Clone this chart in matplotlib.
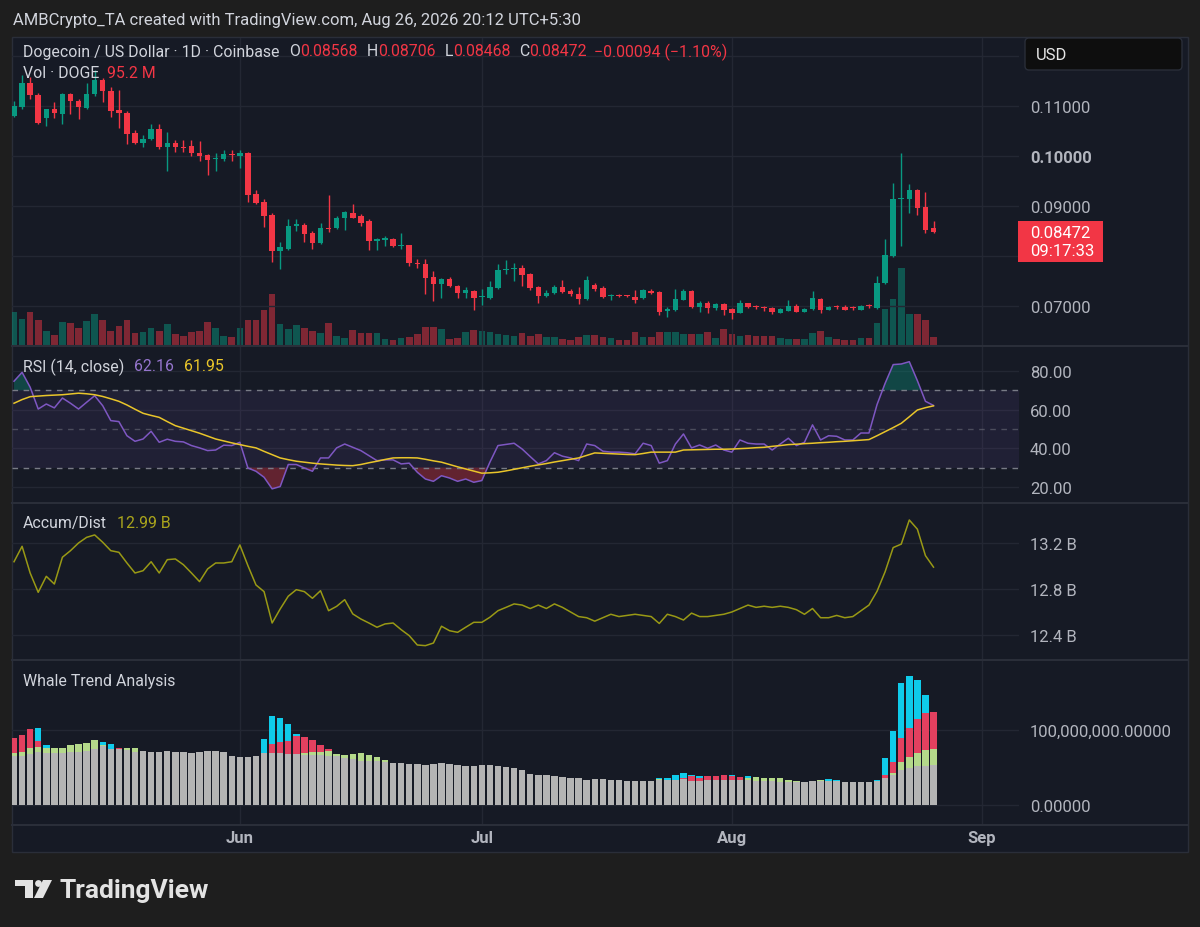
import matplotlib
matplotlib.use("Agg")
import matplotlib.pyplot as plt
import matplotlib.dates as mdates
from matplotlib.patches import Rectangle, FancyBboxPatch, Circle, Polygon
from matplotlib.lines import Line2D
from matplotlib.transforms import Affine2D
import numpy as np

plt.rcParams['font.family'] = ['Roboto', 'DejaVu Sans']

W, H = 1200, 928

# ---- data ----
dates = np.arange(np.datetime64('2026-05-04'), np.datetime64('2026-08-27'))

# open, high, low, close
candles = [
    (0.1081, 0.1110, 0.1078, 0.1100), (0.1099, 0.1162, 0.1095, 0.1147),
    (0.1147, 0.1158, 0.1114, 0.1123), (0.1123, 0.1126, 0.1064, 0.1067),
    (0.1077, 0.1094, 0.1061, 0.1094), (0.1094, 0.1108, 0.1077, 0.1086),
    (0.1084, 0.1126, 0.1064, 0.1124), (0.1124, 0.1126, 0.1084, 0.1111),
    (0.1111, 0.1114, 0.1075, 0.1099), (0.1097, 0.1147, 0.1094, 0.1124),
    (0.1124, 0.1172, 0.1120, 0.1153), (0.1153, 0.1156, 0.1108, 0.1131),
    (0.1131, 0.1138, 0.1078, 0.1091), (0.1093, 0.1132, 0.1057, 0.1087),
    (0.1087, 0.1090, 0.1024, 0.1044), (0.1046, 0.1052, 0.1024, 0.1027),
    (0.1027, 0.1042, 0.1019, 0.1034), (0.1034, 0.1064, 0.1032, 0.1054),
    (0.1054, 0.1064, 0.1015, 0.1019), (0.1019, 0.1048, 0.0971, 0.1027),
    (0.1027, 0.1032, 0.1009, 0.1019), (0.1019, 0.1033, 0.1008, 0.1016),
    (0.1019, 0.1033, 0.1001, 0.1007), (0.1007, 0.1030, 0.0991, 0.1001),
    (0.1002, 0.1004, 0.0962, 0.0993), (0.0994, 0.1007, 0.0970, 0.0997),
    (0.0994, 0.1012, 0.0991, 0.1004), (0.1004, 0.1012, 0.0991, 0.1002),
    (0.1001, 0.1012, 0.0976, 0.1007), (0.1007, 0.1008, 0.0909, 0.0922),
    (0.0924, 0.0933, 0.0905, 0.0907), (0.0909, 0.0915, 0.0858, 0.0881),
    (0.0882, 0.0886, 0.0788, 0.0811), (0.0811, 0.0829, 0.0774, 0.0818),
    (0.0815, 0.0874, 0.0812, 0.0861), (0.0861, 0.0874, 0.0851, 0.0864),
    (0.0862, 0.0866, 0.0829, 0.0844), (0.0846, 0.0851, 0.0815, 0.0826),
    (0.0826, 0.0867, 0.0824, 0.0857), (0.0857, 0.0922, 0.0849, 0.0854),
    (0.0856, 0.0880, 0.0854, 0.0876), (0.0876, 0.0890, 0.0853, 0.0887),
    (0.0886, 0.0905, 0.0876, 0.0877), (0.0879, 0.0885, 0.0860, 0.0867),
    (0.0869, 0.0875, 0.0813, 0.0831), (0.0831, 0.0836, 0.0813, 0.0834),
    (0.0833, 0.0840, 0.0820, 0.0836), (0.0835, 0.0836, 0.0818, 0.0821),
    (0.0821, 0.0847, 0.0815, 0.0823), (0.0822, 0.0823, 0.0780, 0.0786),
    (0.0786, 0.0795, 0.0777, 0.0784), (0.0784, 0.0795, 0.0724, 0.0757),
    (0.0759, 0.0771, 0.0711, 0.0744), (0.0745, 0.0757, 0.0717, 0.0755),
    (0.0755, 0.0759, 0.0739, 0.0741), (0.0741, 0.0743, 0.0717, 0.0727),
    (0.0727, 0.0739, 0.0717, 0.0732), (0.0731, 0.0733, 0.0692, 0.0716),
    (0.0719, 0.0735, 0.0702, 0.0721), (0.0717, 0.0751, 0.0715, 0.0739),
    (0.0737, 0.0784, 0.0735, 0.0773), (0.0773, 0.0792, 0.0764, 0.0775),
    (0.0775, 0.0786, 0.0751, 0.0777), (0.0776, 0.0782, 0.0741, 0.0763),
    (0.0764, 0.0766, 0.0733, 0.0737), (0.0739, 0.0741, 0.0707, 0.0721),
    (0.0721, 0.0732, 0.0719, 0.0727), (0.0726, 0.0742, 0.0724, 0.0739),
    (0.0739, 0.0752, 0.0727, 0.0729), (0.0731, 0.0735, 0.0721, 0.0724),
    (0.0724, 0.0739, 0.0705, 0.0715), (0.0715, 0.0760, 0.0713, 0.0752),
    (0.0742, 0.0747, 0.0730, 0.0735), (0.0737, 0.0740, 0.0717, 0.0719),
    (0.0721, 0.0724, 0.0713, 0.0723), (0.0723, 0.0724, 0.0719, 0.0721),
    (0.0721, 0.0723, 0.0718, 0.0720), (0.0718, 0.0733, 0.0707, 0.0713),
    (0.0717, 0.0735, 0.0715, 0.0732), (0.0731, 0.0735, 0.0725, 0.0727),
    (0.0729, 0.0731, 0.0682, 0.0689), (0.0690, 0.0699, 0.0679, 0.0695),
    (0.0692, 0.0734, 0.0690, 0.0714), (0.0713, 0.0735, 0.0713, 0.0731),
    (0.0731, 0.0733, 0.0696, 0.0699), (0.0699, 0.0710, 0.0689, 0.0706),
    (0.0706, 0.0710, 0.0686, 0.0697), (0.0696, 0.0707, 0.0693, 0.0704),
    (0.0704, 0.0707, 0.0683, 0.0693), (0.0694, 0.0697, 0.0674, 0.0687),
    (0.0687, 0.0713, 0.0686, 0.0706), (0.0706, 0.0706, 0.0697, 0.0699),
    (0.0700, 0.0702, 0.0694, 0.0698), (0.0699, 0.0701, 0.0691, 0.0697),
    (0.0697, 0.0698, 0.0685, 0.0689), (0.0687, 0.0697, 0.0686, 0.0694),
    (0.0691, 0.0713, 0.0690, 0.0701), (0.0701, 0.0704, 0.0688, 0.0689),
    (0.0689, 0.0697, 0.0688, 0.0695), (0.0694, 0.0730, 0.0693, 0.0717),
    (0.0715, 0.0717, 0.0687, 0.0692), (0.0693, 0.0701, 0.0693, 0.0699),
    (0.0700, 0.0702, 0.0694, 0.0699), (0.0699, 0.0703, 0.0693, 0.0693),
    (0.0697, 0.0700, 0.0692, 0.0696), (0.0693, 0.0703, 0.0692, 0.0701),
    (0.0702, 0.0705, 0.0697, 0.0701), (0.0697, 0.0761, 0.0695, 0.0747),
    (0.0746, 0.0834, 0.0744, 0.0802), (0.0801, 0.0947, 0.0799, 0.0914),
    (0.0914, 0.1007, 0.0821, 0.0916), (0.0915, 0.0944, 0.0886, 0.0933),
    (0.0933, 0.0935, 0.0883, 0.0897), (0.0899, 0.0929, 0.0847, 0.0853),
    (0.08568, 0.08706, 0.08468, 0.08472),
]

# volume, millions of DOGE
volume_m = [
    370, 295, 370, 287, 162, 113, 264, 249, 196, 272,
    348, 287, 159, 212, 287, 133, 151, 196, 159, 241,
    125, 105, 151, 159, 257, 196, 105, 91, 196, 280,
    280, 393, 581, 241, 181, 227, 189, 159, 136, 249,
    99, 83, 167, 136, 136, 136, 68, 53, 76, 91,
    128, 204, 200, 181, 68, 79, 151, 167, 159, 144,
    128, 113, 99, 136, 99, 121, 91, 91, 68, 60,
    91, 113, 113, 91, 83, 53, 53, 151, 91, 91,
    151, 144, 144, 121, 121, 121, 144, 76, 181, 121,
    99, 113, 105, 105, 99, 83, 68, 68, 68, 136,
    159, 91, 68, 53, 53, 74, 74, 249, 411, 525,
    876, 355, 355, 280, 95.2,
]

rsi = [
    74.7, 79.3, 71.6, 60.3, 62.9, 60.9, 66.0, 63.3, 60.3, 63.8,
    67.2, 62.0, 54.3, 53.8, 46.5, 43.6, 44.8, 48.8, 43.1, 44.7,
    43.6, 43.3, 41.4, 40.2, 38.8, 39.1, 41.6, 41.4, 43.1, 29.8,
    28.1, 25.0, 19.0, 20.2, 31.6, 31.6, 29.8, 28.1, 35.0, 35.0,
    40.2, 42.2, 40.5, 38.8, 36.2, 33.6, 34.0, 34.0, 31.9, 32.3,
    27.6, 24.1, 22.9, 25.8, 24.6, 22.9, 24.1, 22.4, 23.3, 32.8,
    41.4, 42.0, 42.6, 39.6, 35.7, 31.9, 33.6, 37.7, 35.9, 35.0,
    33.6, 42.2, 41.4, 38.5, 38.0, 38.0, 37.7, 37.1, 42.6, 41.4,
    32.3, 33.6, 42.2, 47.4, 40.2, 41.7, 40.0, 41.7, 39.1, 38.0,
    44.3, 42.6, 42.2, 42.2, 39.1, 42.2, 45.2, 41.4, 43.1, 52.1,
    44.3, 46.5, 46.2, 44.3, 44.3, 47.9, 47.9, 62.6, 73.6, 83.3,
    83.6, 84.8, 75.0, 64.3, 62.16,
]

rsi_ma = [
    63.3, 65.2, 66.7, 67.0, 67.3, 67.5, 67.7, 68.1, 68.5, 68.2,
    67.7, 66.8, 65.6, 64.3, 62.4, 60.2, 58.1, 57.0, 56.0, 53.8,
    51.7, 50.4, 49.1, 47.8, 46.3, 44.8, 43.8, 42.8, 41.9, 41.0,
    40.2, 38.4, 36.7, 35.0, 34.1, 33.3, 32.8, 32.3, 31.9, 31.6,
    31.3, 31.1, 31.0, 31.6, 32.5, 33.3, 34.2, 35.0, 35.1, 35.1,
    35.0, 34.3, 33.5, 32.8, 31.6, 30.4, 29.3, 28.2, 27.1, 27.3,
    27.6, 28.3, 29.1, 29.9, 30.7, 31.4, 32.1, 32.9, 33.6, 34.3,
    35.0, 36.3, 37.6, 37.4, 37.2, 37.0, 36.8, 36.7, 37.3, 38.0,
    38.0, 38.0, 38.0, 39.1, 39.2, 39.3, 39.4, 39.5, 39.5, 39.6,
    39.8, 40.0, 40.3, 40.5, 41.0, 41.4, 41.9, 42.1, 42.4, 42.6,
    42.9, 43.1, 43.4, 43.6, 43.9, 44.2, 44.5, 46.5, 48.6, 50.7,
    52.9, 56.3, 59.8, 61.0, 61.95,
]

# accumulation / distribution, billions
accum_dist = [
    13.037, 13.171, 12.939, 12.771, 12.910, 12.843, 13.076, 13.133, 13.200, 13.249,
    13.270, 13.206, 13.133, 13.119, 13.026, 12.939, 12.959, 13.037, 12.939, 13.055,
    13.061, 13.011, 12.939, 12.864, 12.974, 13.026, 13.026, 13.037, 13.183, 13.003,
    12.835, 12.777, 12.504, 12.626, 12.737, 12.794, 12.777, 12.719, 12.785, 12.611,
    12.649, 12.707, 12.583, 12.539, 12.504, 12.467, 12.496, 12.504, 12.446, 12.394,
    12.313, 12.307, 12.330, 12.476, 12.437, 12.423, 12.467, 12.510, 12.510, 12.554,
    12.611, 12.64, 12.67, 12.66, 12.63, 12.66, 12.63, 12.67, 12.64, 12.60,
    12.56, 12.55, 12.52, 12.55, 12.58, 12.56, 12.57, 12.58, 12.57, 12.56,
    12.50, 12.58, 12.56, 12.53, 12.59, 12.56, 12.56, 12.57, 12.58, 12.60,
    12.63, 12.66, 12.64, 12.65, 12.64, 12.65, 12.64, 12.62, 12.58, 12.63,
    12.55, 12.55, 12.57, 12.55, 12.56, 12.61, 12.66, 12.78, 12.95, 13.16,
    13.19, 13.40, 13.32, 13.09, 12.99,
]

# whale trend columns (top of each colour, millions; 0 = not drawn)
whale_base = [
    64.8, 65.5, 67.9, 70.1, 69.3, 68.8, 68.8, 70.1, 70.1, 72.2,
    74.4, 78.2, 74.6, 74.6, 73.1, 70.9, 71.4, 70.9, 70.9, 71.4,
    70.9, 70.1, 69.2, 70.1, 71.8, 71.8, 70.9, 65.1, 63.4, 63.4,
    65.1, 68.8, 69.2, 69.2, 67.9, 67.9, 67.0, 67.0, 66.6, 65.6,
    64.8, 63.0, 61.3, 59.1, 59.1, 58.2, 57.0, 56.1, 55.7, 54.4,
    53.9, 53.5, 54.4, 55.7, 54.4, 53.5, 52.2, 52.2, 53.1, 52.7,
    51.8, 50.0, 48.7, 46.0, 41.1, 40.2, 39.3, 38.0, 37.1, 36.2,
    35.3, 33.5, 34.4, 34.4, 33.5, 32.6, 32.1, 32.1, 32.1, 32.1,
    33.5, 33.5, 33.5, 34.4, 32.1, 32.1, 33.5, 33.5, 33.5, 32.6,
    33.5, 33.5, 32.1, 32.1, 32.1, 30.8, 30.8, 29.9, 30.8, 31.3,
    32.1, 32.1, 31.7, 30.8, 29.9, 29.9, 29.9, 31.7, 36.2, 39.8,
    46.9, 49.6, 51.4, 52.2, 53.1,
]
whale_green = [
    68.8, 70.8, 75.9, 77.2, 76.3, 75.9, 75.9, 79.5, 81.0, 83.3,
    86.9, 79.9, 0, 0, 76.5, 76.5, 0, 0, 0, 0,
    0, 0, 0, 0, 0, 0, 0, 0, 0, 0,
    0, 0, 0, 0, 0, 0, 69.2, 70.1, 70.1, 71.8,
    68.4, 66.3, 68.0, 68.8, 66.7, 64.4, 60.4, 0, 0, 0,
    0, 0, 0, 0, 0, 0, 0, 0, 0, 0,
    0, 0, 0, 0, 0, 0, 0, 0, 0, 0,
    0, 0, 0, 0, 0, 0, 0, 0, 0, 0,
    34.4, 0, 0, 0, 0, 0, 0, 0, 0, 0,
    0, 35.3, 36.6, 35.7, 35.7, 35.7, 33.5, 32.1, 0, 0,
    32.6, 0, 0, 0, 0, 0, 0, 0, 0, 42.4,
    57.6, 63.4, 69.2, 73.6, 74.4,
]
whale_red = [
    89.3, 93.3, 101.3, 85.7, 0, 0, 0, 0, 0, 0,
    0, 0, 0, 76.3, 0, 0, 0, 0, 0, 0,
    0, 0, 0, 0, 0, 0, 0, 0, 0, 0,
    0, 69.5, 81.3, 83.5, 85.7, 91.6, 90.6, 86.2, 79.9, 74.6,
    0, 0, 0, 0, 0, 0, 0, 0, 0, 0,
    0, 0, 0, 0, 0, 0, 0, 0, 0, 0,
    0, 0, 0, 0, 0, 0, 0, 0, 0, 0,
    0, 0, 0, 0, 0, 0, 0, 0, 0, 0,
    0, 0, 0, 35.3, 37.9, 36.2, 38.8, 37.9, 39.8, 37.9,
    36.6, 0, 0, 0, 0, 0, 0, 0, 0, 0,
    0, 0, 0, 0, 0, 0, 0, 0, 39.8, 56.7,
    89.3, 102.3, 114.7, 122.8, 124.5,
]
whale_cyan = [
    0, 0, 0, 102.3, 79.9, 0, 0, 0, 0, 0,
    0, 84.3, 81.3, 0, 0, 0, 0, 0, 0, 0,
    0, 0, 0, 0, 0, 0, 0, 0, 0, 0,
    0, 87.9, 118.3, 115.7, 108.0, 94.2, 0, 0, 0, 0,
    0, 0, 0, 0, 0, 0, 0, 0, 0, 0,
    0, 0, 0, 0, 0, 0, 0, 0, 0, 0,
    0, 0, 0, 0, 0, 0, 0, 0, 0, 0,
    0, 0, 0, 0, 0, 0, 0, 0, 0, 0,
    35.7, 35.7, 39.8, 42.4, 39.8, 38.4, 0, 0, 0, 39.8,
    0, 37.9, 0, 0, 0, 0, 0, 0, 0, 0,
    0, 34.4, 33.0, 0, 0, 0, 0, 33.0, 62.9, 98.7,
    162.9, 171.9, 166.9, 146.9, 0,
]

# labelled price levels; 0.08 and 0.12 only get a grid line (tag / USD box cover them)
price_ticks = [0.07, 0.08, 0.09, 0.10, 0.11, 0.12]
price_labels = ['0.07000', '', '0.09000', '0.10000', '0.11000', '']
rsi_ticks = [20, 40, 60, 80]
ad_ticks = [12.4, 12.8, 13.2]
whale_ticks = [0, 100]

# ---- colours ----
BG_OUT = '#1e1e1e'
BG = '#161a25'
GRID = '#232733'
SEP = '#2a2e39'
TXT = '#d1d4dc'
AX_TXT = '#b2b5be'
UP = '#089981'
DN = '#f23645'
RSI_C = '#7e57c2'
MA_C = '#e9c52a'
AD_C = '#999915'

FS = 11.4       # legend text
AXFS = 12       # scale labels

opens, highs, lows, closes = map(np.array, zip(*candles))
x = mdates.date2num(dates)
xlim = (x[0] - 0.25, x[0] + 124.6)
up = closes >= opens
cols = np.where(up, UP, DN)

fig = plt.figure(figsize=(W / 100, H / 100), dpi=100, facecolor=BG_OUT)
PIX = Affine2D().scale(1 / W, -1 / H).translate(0, 1) + fig.transFigure

X0, X1 = 12, 1019

fig.add_artist(Rectangle((12, 38), 1176, 815, transform=PIX, fc=BG, ec=SEP,
                         lw=1, zorder=-5))


def pane(y0, y1):
    ax = fig.add_axes([X0 / W, 1 - y1 / H, (X1 - X0) / W, (y1 - y0) / H])
    ax.set_facecolor('none')
    ax.set_xlim(xlim)
    for s in ax.spines.values():
        s.set_visible(False)
    ax.xaxis.set_major_locator(mdates.MonthLocator())
    ax.tick_params(axis='both', length=0, colors=AX_TXT, labelsize=AXFS)
    ax.tick_params(axis='x', labelbottom=False)
    ax.yaxis.tick_right()
    ax.tick_params(axis='y', pad=8)
    ax.grid(True, color=GRID, lw=1)
    ax.set_axisbelow(True)
    return ax


# volume sits under the candles
vax = fig.add_axes([X0 / W, 1 - 346 / H, (X1 - X0) / W, (346 - 39) / H])
vax.set_facecolor('none')
vax.set_xlim(xlim)
vax.set_ylim(0, 3478)
vax.axis('off')
vax.bar(x, volume_m, width=0.82, color=cols, alpha=0.48, lw=0)

# price
ax = pane(39, 346)
ax.set_ylim(0.0622, 0.1236)
ax.set_yticks(price_ticks, price_labels)
for lbl in ax.get_yticklabels():
    if lbl.get_text() == '0.10000':
        lbl.set_fontweight('bold')
ax.vlines(x, lows, highs, colors=cols, lw=1)
body = np.maximum(np.abs(closes - opens), 0.00016)
ax.bar(x, body, bottom=np.minimum(opens, closes), width=0.68, color=cols, lw=0)

# rsi
rax = pane(348, 503)
rax.set_ylim(12.2, 92.4)
rax.set_yticks(rsi_ticks, [f'{t:.2f}' for t in rsi_ticks])
rax.axhspan(30, 70, color=RSI_C, alpha=0.1, lw=0)
for lvl, a in [(70, 1), (50, 0.5), (30, 1)]:
    rax.axhline(lvl, color='#787b86', lw=1, ls=(0, (4, 4)), alpha=a)
r = np.array(rsi)
rax.fill_between(x, 70, r, where=r > 70, interpolate=True, color=UP, alpha=0.35, lw=0)
rax.fill_between(x, r, 30, where=r < 30, interpolate=True, color=DN, alpha=0.35, lw=0)
rax.plot(x, rsi, color=RSI_C, lw=1.1)
rax.plot(x, rsi_ma, color=MA_C, lw=1.1)

# accumulation / distribution
aax = pane(505, 660)
aax.set_ylim(12.191, 13.539)
aax.set_yticks(ad_ticks, [f'{t:.1f} B' for t in ad_ticks])
aax.plot(x, accum_dist, color=AD_C, lw=1.1)

# whale trend analysis
wax = pane(662, 825)
wax.set_ylim(-25.8, 192.4)
wax.set_yticks(whale_ticks, [f'{t * 1e6:,.5f}' for t in whale_ticks])
wax.bar(x, whale_cyan, width=0.8, color='#0fcbea', lw=0)
wax.bar(x, whale_red, width=0.8, color='#e3405f', lw=0)
wax.bar(x, whale_green, width=0.8, color='#b4d98a', lw=0)
wax.bar(x, whale_base, width=0.8, color='#b4b4b4', lw=0)
wax.tick_params(axis='x', labelbottom=True, pad=4)
wax.xaxis.set_major_formatter(mdates.DateFormatter('%b'))
for lbl in wax.get_xticklabels():
    lbl.set_fontweight('bold')

# pane separators
for yy in [347, 504, 661, 826]:
    fig.add_artist(Line2D([12, 1188], [yy, yy], transform=PIX, color=SEP, lw=1.5))


def text_run(x0, y, parts, size=FS):
    rend = fig.canvas.get_renderer()
    for s, c, gap in parts:
        t = fig.text(x0, y, s, color=c, fontsize=size, va='center', ha='left',
                     transform=PIX)
        x0 += t.get_window_extent(rend).width + gap


fig.text(13, 20, 'AMBCrypto_TA created with TradingView.com, Aug 26, 2026 20:12 UTC+5:30',
         transform=PIX, color=TXT, fontsize=12, va='center')

text_run(23, 52, [('Dogecoin / US Dollar · 1D · Coinbase', TXT, 10),
                  ('O', TXT, 0), ('0.08568', DN, 9),
                  ('H', TXT, 0), ('0.08706', DN, 9),
                  ('L', TXT, 0), ('0.08468', DN, 9),
                  ('C', TXT, 0), ('0.08472', DN, 7),
                  ('−0.00094 (−1.10%)', DN, 0)])
text_run(23, 73, [('Vol · DOGE', TXT, 8), ('95.2 M', DN, 0)])
text_run(23, 367, [('RSI (14, close)', TXT, 10), ('62.16', '#9575cd', 10),
                   ('61.95', MA_C, 0)])
text_run(23, 524, [('Accum/Dist', TXT, 10), ('12.99 B', '#aaa51c', 0)])
text_run(23, 682, [('Whale Trend Analysis', TXT, 0)])

# currency box
fig.add_artist(FancyBboxPatch((1025, 39), 157, 32, transform=PIX,
                              boxstyle='round,pad=0,rounding_size=4',
                              fc='#0e0e0e', ec=SEP, lw=1))
fig.text(1036, 55, 'USD', transform=PIX, color='#e6e6e6', fontsize=AXFS, va='center')

# last price tag
fig.add_artist(Rectangle((1018, 222), 85, 41, transform=PIX, fc=DN, ec='none'))
fig.text(1030, 233, '0.08472', transform=PIX, color='white', fontsize=AXFS, va='center')
fig.text(1030, 252, '09:17:33', transform=PIX, color='white', fontsize=AXFS, va='center')

# TradingView logo
LOGO = '#e3e3e3'
fig.add_artist(Rectangle((15, 881), 18, 6, transform=PIX, fc=LOGO, ec='none'))
fig.add_artist(Rectangle((25, 881), 8, 18, transform=PIX, fc=LOGO, ec='none'))
fig.add_artist(Circle((38.5, 884.5), 3.4, transform=PIX, fc=LOGO, ec='none'))
fig.add_artist(Polygon([(43, 881), (52, 881), (43, 899), (34, 899)], transform=PIX,
                       fc=LOGO, ec='none'))
fig.text(59, 891, 'TradingView', transform=PIX, color=LOGO, fontsize=19,
         fontweight='bold', va='center')

fig.savefig('out.png', dpi=100, facecolor=BG_OUT)
